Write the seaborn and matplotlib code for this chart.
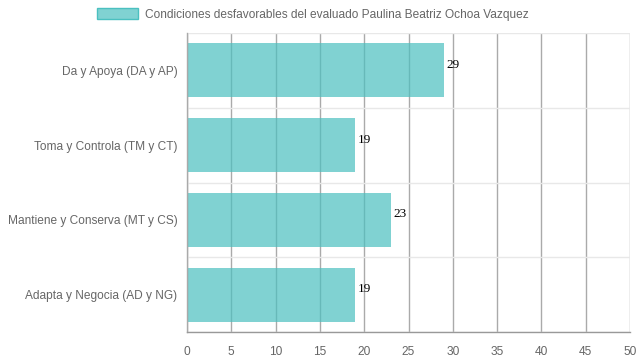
import matplotlib
matplotlib.use("Agg")
import matplotlib.pyplot as plt
import seaborn as sns
import pandas as pd
from matplotlib.patches import Patch

categories = ["Da y Apoya (DA y AP)", "Toma y Controla (TM y CT)",
              "Mantiene y Conserva (MT y CS)", "Adapta y Negocia (AD y NG)"]
values = [29, 19, 23, 19]
series_name = "Condiciones desfavorables del evaluado Paulina Beatriz Ochoa Vazquez"
xticks = [0, 5, 10, 15, 20, 25, 30, 35, 40, 45, 50]

df = pd.DataFrame({"cat": categories, "val": values})

sns.set_style("white")
plt.rcParams["font.family"] = ["Liberation Sans", "DejaVu Sans"]

fig = plt.figure(figsize=(6.39, 3.6), dpi=100)
ax = fig.add_axes([187/639, 1 - 332/360, (630-187)/639, (332-33)/360])

bar_rgb = (75/255, 192/255, 192/255)
sns.barplot(data=df, x="val", y="cat", orient="h", color=bar_rgb, alpha=0.7,
            width=0.72, saturation=1, ax=ax, order=categories, zorder=2, linewidth=0)

ax.set_xlim(0, 50)
ax.set_ylim(len(categories) - 0.5, -0.5)
ax.set_xticks(xticks)
ax.set_xticklabels([str(t) for t in xticks])
ax.set_xlabel("")
ax.set_ylabel("")

# vertical grid
ax.grid(axis="x", color="#aaaaaa", linewidth=1, zorder=0)
ax.set_axisbelow(True)
# horizontal light grid at category boundaries
ax.set_yticks(range(len(categories)))
ax.set_yticks([i - 0.5 for i in range(len(categories) + 1)], minor=True)
ax.grid(axis="y", which="minor", color="#e8e8e8", linewidth=1, zorder=0)
ax.grid(axis="y", which="major", visible=False)

ax.tick_params(axis="x", length=8, color="#aaaaaa", labelsize=8.6, labelcolor="#666666", pad=2)
ax.tick_params(axis="y", which="major", length=0, labelsize=8.6, labelcolor="#666666", pad=7)
ax.tick_params(axis="y", which="minor", length=10, color="#e8e8e8")

for s in ["top", "right"]:
    ax.spines[s].set_visible(False)
ax.spines["left"].set_color("#aaaaaa")
ax.spines["bottom"].set_color("#999999")
ax.spines["left"].set_linewidth(1)
ax.spines["bottom"].set_linewidth(1)

for i, v in enumerate(values):
    ax.annotate(str(v), xy=(v, i), xytext=(2, 4), textcoords="offset points",
                ha="left", va="center", fontsize=9.5, color="black",
                family=["Liberation Serif", "DejaVu Serif"])

handle = Patch(facecolor=(*bar_rgb, 0.7), edgecolor=bar_rgb, linewidth=1)
fig.legend([handle], [series_name], loc="upper center", bbox_to_anchor=(0.49, 1.0),
           frameon=False, fontsize=8.6, labelcolor="#666666",
           handlelength=3.4, handleheight=1.0, handletextpad=0.6, borderaxespad=0.3)

fig.savefig("out.png", dpi=100)
